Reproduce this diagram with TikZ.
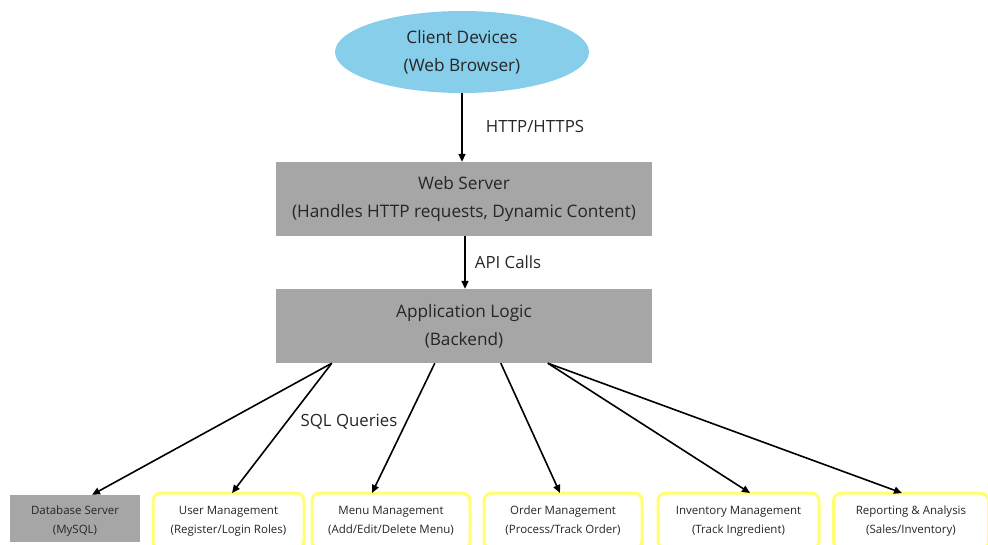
\documentclass[tikz,border=0pt]{standalone}
\usepackage{fontspec}
\setmainfont{Open Sans}
\usetikzlibrary{shapes.geometric,arrows.meta}
\definecolor{skyfill}{HTML}{87CEEB}
\definecolor{boxgray}{HTML}{A6A6A6}
\definecolor{ybord}{HTML}{FFFF70}
\tikzset{
  big/.style={font=\fontsize{17.2}{28}\selectfont, text=black!85, align=center},
  small/.style={font=\fontsize{11.5}{19}\selectfont, text=black!85, align=center},
  graybox/.style={rectangle, fill=boxgray, draw=none, inner sep=0pt},
  ybox/.style={rectangle, rounded corners=8pt, draw=ybord, line width=3pt, fill=white, inner sep=0pt, minimum height=56pt},
  arr/.style={-{Triangle[length=8pt,width=7pt]}, line width=1.6pt, black},
  lbl/.style={font=\fontsize{16.8}{18}\selectfont, text=black!85}
}
\begin{document}
\begin{tikzpicture}[x=1pt,y=-1pt]
\useasboundingbox (0,0) rectangle (988,544);
% client
\node[ellipse, fill=skyfill, minimum width=254pt, minimum height=82pt, inner sep=0pt, big] (client) at (462,52) {Client Devices\\(Web Browser)};
% web server
\node[graybox, minimum width=376pt, minimum height=74pt, big] (web) at (464,199) {Web Server\\(Handles HTTP requests, Dynamic Content)};
% app logic
\node[graybox, minimum width=376pt, minimum height=74pt, big] (app) at (464,326) {Application Logic\\(Backend)};
% bottom boxes
\node[graybox, minimum width=130pt, minimum height=47pt] (db) at (75,518.5) {};
\node[small] (dbtext) at (75,521.5) {Database Server\\(MySQL)};
\node[ybox, minimum width=151pt, small] (user) at (228.5,521) {User Management\\(Register/Login Roles)};
\node[ybox, minimum width=158pt, small] (menu) at (391,521) {Menu Management\\(Add/Edit/Delete Menu)};
\node[ybox, minimum width=158pt, small] (order) at (563,521) {Order Management\\(Process/Track Order)};
\node[ybox, minimum width=161pt, small] (inv) at (738.5,521) {Inventory Management\\(Track Ingredient)};
\node[ybox, minimum width=155pt, small] (rep) at (911,521) {Reporting \& Analysis\\(Sales/Inventory)};
% connectors
\draw[arr] (client.south) -- (web.north -| client.south);
\draw[arr] ([xshift=1pt]web.south) -- ([xshift=1pt]app.north);
\draw[arr] ([xshift=56pt]app.south west) -- ([xshift=17pt]db.north);
\draw[arr] ([xshift=56pt]app.south west) -- ([xshift=3.5pt,yshift=-1.5pt]user.north);
\draw[arr] ([xshift=159pt]app.south west) -- ([xshift=-19pt,yshift=-1.5pt]menu.north);
\draw[arr] ([xshift=225pt]app.south west) -- ([xshift=-3pt,yshift=-1.5pt]order.north);
\draw[arr] ([xshift=272pt]app.south west) -- ([xshift=11.5pt,yshift=-1.5pt]inv.north);
\draw[arr] ([xshift=272pt]app.south west) -- ([xshift=-9pt,yshift=-1.5pt]rep.north);
% labels
\node[lbl] (l1) at (535,126) {HTTP/HTTPS};
\node[lbl] (l2) at (508,262) {API Calls};
\node[lbl] (l3) at (349,422) {SQL Queries};
\end{tikzpicture}
\end{document}
